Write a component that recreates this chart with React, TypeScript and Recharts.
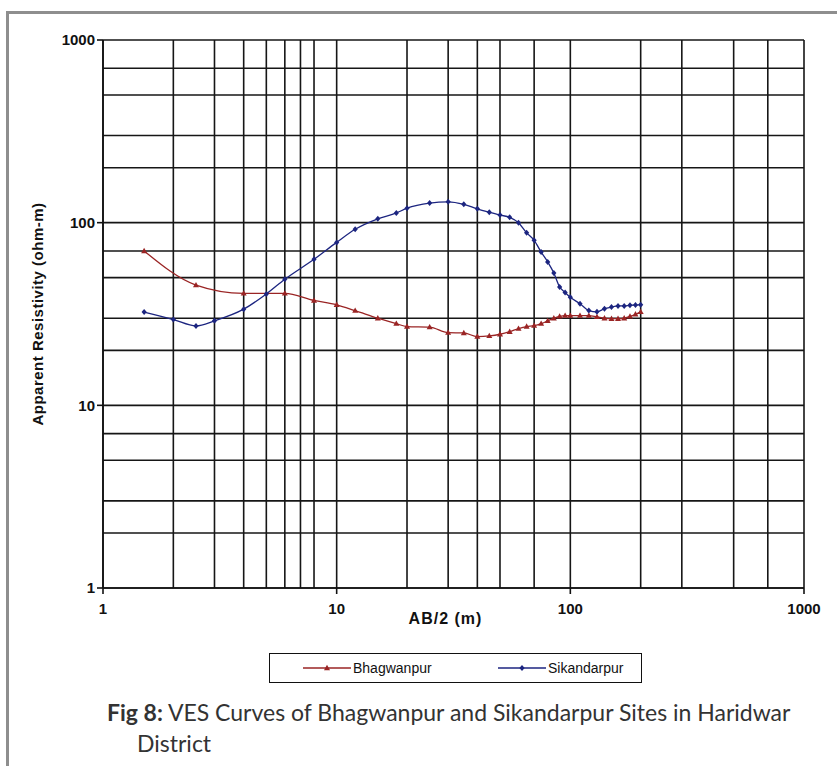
import React from "react";
import { LineChart, Line, XAxis, YAxis, CartesianGrid } from "recharts";

// AB/2 spacing (m) and apparent resistivity (ohm-m)
const bhagwanpurAB = [1.5, 2.5, 4, 6, 8, 10, 12, 15, 18, 20, 25, 30, 35, 40, 45, 50, 55, 60, 65, 70, 75, 80, 85, 90, 95, 100, 110, 120, 130, 140, 150, 160, 170, 180, 190, 200];
const bhagwanpurRho = [70, 45.5, 41, 41, 37.5, 35.5, 33, 30, 28, 27, 26.8, 25, 24.9, 23.8, 24, 24.5, 25.3, 26.3, 27, 27.3, 28, 29, 30, 30.7, 31, 31, 31, 31, 30.5, 30, 29.8, 29.8, 30, 30.7, 31.5, 32.5];

const sikandarpurAB = [1.5, 2, 2.5, 3, 4, 5, 6, 8, 10, 12, 15, 18, 20, 25, 30, 35, 40, 45, 50, 55, 60, 65, 70, 75, 80, 85, 90, 95, 100, 110, 120, 130, 140, 150, 160, 170, 180, 190, 200];
const sikandarpurRho = [32.4, 29.5, 27.2, 29, 33.6, 40.7, 49, 63, 78, 92, 105, 113, 120, 128, 130, 126, 119, 114, 110, 107, 100, 88, 80, 69, 61, 53, 44.5, 41.5, 39, 36, 33, 32.5, 33.8, 34.5, 35, 35, 35.3, 35.4, 35.5];

const majorTicks = [1, 10, 100, 1000];
const gridValues = [
  1, 2, 3, 4, 5, 6, 7, 8, 9,
  10, 20, 30, 40, 50, 60, 70, 80, 90,
  100, 200, 300, 400, 500, 600, 700, 800, 900,
  1000,
];

const RED = "#9a2424";
const BLUE = "#1c2580";

const bhagwanpur = bhagwanpurAB.map((x, i) => ({ x, rho: bhagwanpurRho[i] }));
const sikandarpur = sikandarpurAB.map((x, i) => ({ x, rho: sikandarpurRho[i] }));

const Triangle = (props: any) => {
  const { cx, cy, key } = props;
  if (cx == null || cy == null) return null;
  return (
    <path
      key={key}
      d={`M${cx},${cy - 3.2} L${cx + 3},${cy + 2.2} L${cx - 3},${cy + 2.2} Z`}
      fill={RED}
    />
  );
};

const Diamond = (props: any) => {
  const { cx, cy, key } = props;
  if (cx == null || cy == null) return null;
  return (
    <path
      key={key}
      d={`M${cx},${cy - 3} L${cx + 2.6},${cy} L${cx},${cy + 3} L${cx - 2.6},${cy} Z`}
      fill={BLUE}
    />
  );
};

const tickStyle = {
  fill: "#111",
  fontSize: 15,
  fontWeight: "bold" as const,
  fontFamily: "'Liberation Sans', Arial, sans-serif",
};

export default function App() {
  return (
    <div
      style={{
        position: "absolute",
        left: 0,
        top: 0,
        width: 837,
        height: 766,
        background: "#fff",
        overflow: "hidden",
      }}
    >
      <div
        style={{
          position: "absolute",
          left: 6,
          top: 11,
          width: 840,
          height: 800,
          borderTop: "3px solid #8e8e8e",
          borderLeft: "3px solid #8e8e8e",
        }}
      />
      <div style={{ position: "absolute", left: 0, top: 0 }}>
        <LineChart
          width={837}
          height={640}
          margin={{ top: 40, right: 33, bottom: 0, left: 0 }}
        >
          <CartesianGrid
            stroke="#161616"
            strokeWidth={1.6}
            horizontalValues={gridValues}
            verticalValues={gridValues}
          />
          <XAxis
            dataKey="x"
            type="number"
            scale="log"
            domain={[1, 1000]}
            ticks={majorTicks}
            allowDataOverflow
            height={52}
            stroke="#111"
            strokeWidth={1.6}
            tickSize={6}
            tickMargin={9}
            tick={tickStyle}
            label={{
              value: "AB/2  (m)",
              position: "insideBottom",
              offset: 16,
              dx: -8,
              style: { ...tickStyle, fontSize: 16, letterSpacing: 1 },
            }}
          />
          <YAxis
            type="number"
            scale="log"
            domain={[1, 1000]}
            ticks={majorTicks}
            allowDataOverflow
            width={103}
            stroke="#111"
            strokeWidth={1.6}
            tickSize={6}
            tick={tickStyle}
            label={{
              value: "Apparent Resistivity  (ohm-m)",
              angle: -90,
              position: "insideLeft",
              offset: 38,
              style: { ...tickStyle, fontSize: 15, letterSpacing: 0.5, textAnchor: "middle" },
            }}
          />
          <Line
            data={bhagwanpur}
            dataKey="rho"
            name="Bhagwanpur"
            type="monotone"
            stroke={RED}
            strokeWidth={1.3}
            dot={Triangle}
            activeDot={false}
            isAnimationActive={false}
          />
          <Line
            data={sikandarpur}
            dataKey="rho"
            name="Sikandarpur"
            type="monotone"
            stroke={BLUE}
            strokeWidth={1.3}
            dot={Diamond}
            activeDot={false}
            isAnimationActive={false}
          />
        </LineChart>
      </div>

      {/* legend */}
      <div
        style={{
          position: "absolute",
          left: 269,
          top: 653,
          width: 373,
          height: 30,
          border: "1.5px solid #111",
          boxSizing: "border-box",
          fontFamily: "'Liberation Sans', Arial, sans-serif",
          fontSize: 14,
          color: "#111",
        }}
      >
        <div style={{ position: "absolute", left: 33, top: 6, display: "flex", alignItems: "center" }}>
          <svg width={48} height={12}>
            <line x1={0} y1={6} x2={48} y2={6} stroke={RED} strokeWidth={1.3} />
            <path d="M24,2.8 L27,8.2 L21,8.2 Z" fill={RED} />
          </svg>
          <span style={{ marginLeft: 2 }}>Bhagwanpur</span>
        </div>
        <div style={{ position: "absolute", left: 228, top: 6, display: "flex", alignItems: "center" }}>
          <svg width={48} height={12}>
            <line x1={0} y1={6} x2={48} y2={6} stroke={BLUE} strokeWidth={1.3} />
            <path d="M24,3 L26.6,6 L24,9 L21.4,6 Z" fill={BLUE} />
          </svg>
          <span style={{ marginLeft: 2 }}>Sikandarpur</span>
        </div>
      </div>

      {/* caption */}
      <div
        style={{
          position: "absolute",
          left: 107,
          top: 697,
          width: 720,
          fontFamily: "Lato, 'Open Sans', sans-serif",
          fontSize: 23,
          lineHeight: "31px",
          color: "#333",
        }}
      >
        <div>
          <b>Fig 8:</b> VES Curves of Bhagwanpur and Sikandarpur Sites in Haridwar
        </div>
        <div style={{ paddingLeft: 30 }}>District</div>
      </div>
    </div>
  );
}
